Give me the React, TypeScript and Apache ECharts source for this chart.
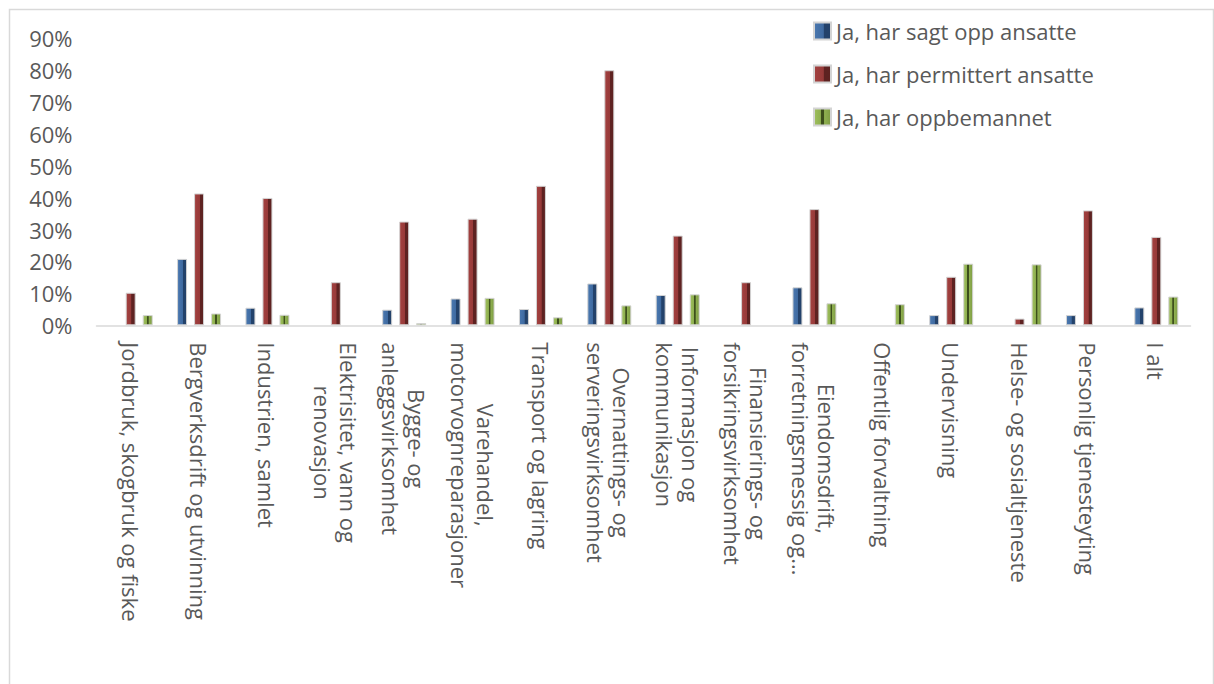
import React, { useEffect, useRef } from "react";
import * as echarts from "echarts";

const categories: string[] = [
  "Jordbruk, skogbruk og fiske",
  "Bergverksdrift og utvinning",
  "Industrien, samlet",
  "Elektrisitet, vann og\nrenovasjon",
  "Bygge- og\nanleggsvirksomhet",
  "Varehandel,\nmotorvognreparasjoner",
  "Transport og lagring",
  "Overnattings- og\nserveringsvirksomhet",
  "Informasjon og\nkommunikasjon",
  "Finansierings- og\nforsikringsvirksomhet",
  "Eiendomsdrift,\nforretningsmessig og…",
  "Offentlig forvaltning",
  "Undervisning",
  "Helse- og sosialtjeneste",
  "Personlig tjenesteyting",
  "I alt",
];

const seriesNames: string[] = [
  "Ja, har sagt opp ansatte",
  "Ja, har permittert ansatte",
  "Ja, har oppbemannet",
];

const sagtOpp: (number | null)[] = [null, 20.8, 5.5, null, 4.9, 8.4, 5.1, 13.1, 9.5, null, 11.9, null, 3.2, null, 3.2, 5.6];
const permittert: (number | null)[] = [10.2, 41.3, 39.9, 13.5, 32.5, 33.4, 43.7, 79.9, 28.1, 13.5, 36.4, null, 15.2, 2.1, 36.0, 27.7];
const oppbemannet: (number | null)[] = [3.2, 3.7, 3.3, null, 0.7, 8.6, 2.5, 6.25, 9.7, null, 6.9, 6.6, 19.3, 19.1, null, 9.0];

const yTicks = { min: 0, max: 90, interval: 10 };

const FONT = "'Open Sans', 'Noto Sans', sans-serif";
const TEXT_COLOR = "#595959";

function grad(stops: [number, string][]) {
  return new echarts.graphic.LinearGradient(
    0, 0, 1, 0,
    stops.map(([offset, color]) => ({ offset, color }))
  );
}

const blueFill = grad([
  [0, "#4a78b0"],
  [0.55, "#3f6aa0"],
  [0.6, "#23426b"],
  [1, "#23426b"],
]);
const redFill = grad([
  [0, "#a34140"],
  [0.55, "#973a39"],
  [0.6, "#5e2221"],
  [1, "#5e2221"],
]);
const greenFill = grad([
  [0, "#9fc05c"],
  [0.38, "#8fb050"],
  [0.42, "#3d4f1c"],
  [0.58, "#3d4f1c"],
  [0.62, "#8fb050"],
  [1, "#7e9c43"],
]);

export default function App() {
  const ref = useRef<HTMLDivElement>(null);

  useEffect(() => {
    if (!ref.current) return;
    const chart = echarts.init(ref.current, undefined, { renderer: "svg" });

    const barBase = {
      type: "bar" as const,
      barWidth: 10,
      barGap: "70%",
    };

    chart.setOption({
      animation: false,
      backgroundColor: "#ffffff",
      textStyle: { fontFamily: FONT },
      graphic: [
        {
          type: "rect",
          z: -10,
          shape: { x: 9.5, y: 9.5, width: 1204, height: 700 },
          style: { fill: "none", stroke: "#d9d9d9", lineWidth: 1.5 },
          silent: true,
        },
      ],
      legend: {
        orient: "vertical",
        left: 808,
        top: 15,
        itemWidth: 17,
        itemHeight: 17,
        itemGap: 21,
        icon: "rect",
        textStyle: { fontSize: 22, color: TEXT_COLOR, fontFamily: FONT },
        data: seriesNames,
      },
      grid: { left: 96.5, right: 23.5, top: 38, bottom: 358.7, containLabel: false },
      xAxis: {
        type: "category",
        data: categories,
        axisLine: { show: true, lineStyle: { color: "#d9d9d9", width: 1.5 } },
        axisTick: { show: false },
        axisLabel: {
          interval: 0,
          rotate: -90,
          margin: 17,
          color: TEXT_COLOR,
          fontSize: 22,
          lineHeight: 26,
          fontFamily: FONT,
          formatter: (v: string) =>
            v.split("\n").map((l) => `{c|${l}}`).join("\n"),
          rich: {
            c: {
              align: "center",
              fontSize: 22,
              lineHeight: 26,
              color: TEXT_COLOR,
              fontFamily: FONT,
            },
          },
        },
      },
      yAxis: {
        type: "value",
        min: yTicks.min,
        max: yTicks.max,
        interval: yTicks.interval,
        axisLine: { show: false },
        axisTick: { show: false },
        splitLine: { show: false },
        axisLabel: {
          formatter: "{value}%",
          color: TEXT_COLOR,
          fontSize: 22,
          margin: 24,
          fontFamily: FONT,
        },
      },
      series: [
        {
          ...barBase,
          name: seriesNames[0],
          data: sagtOpp,
          itemStyle: { color: blueFill, borderColor: "#d4d4d4", borderWidth: 1 },
        },
        {
          ...barBase,
          name: seriesNames[1],
          data: permittert,
          itemStyle: { color: redFill, borderColor: "#d4d4d4", borderWidth: 1 },
        },
        {
          ...barBase,
          name: seriesNames[2],
          data: oppbemannet,
          itemStyle: { color: greenFill, borderColor: "#d4d4d4", borderWidth: 1 },
        },
      ],
    });

    return () => chart.dispose();
  }, []);

  return (
    <div
      ref={ref}
      style={{ position: "absolute", left: 0, top: 0, width: 1214, height: 684 }}
    />
  );
}
